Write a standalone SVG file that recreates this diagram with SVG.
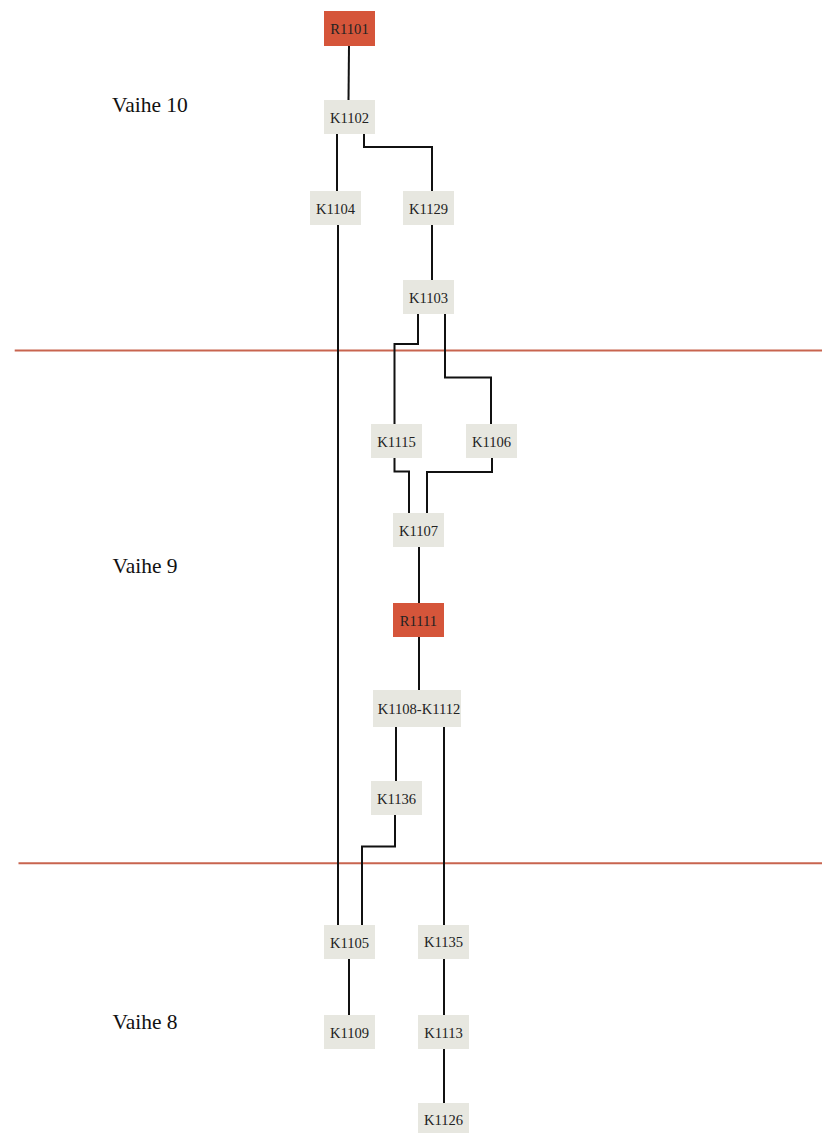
<svg xmlns="http://www.w3.org/2000/svg" width="822" height="1133" viewBox="0 0 822 1133">
<style>
.bg{fill:#ffffff}
.sep{stroke:#c8644f;stroke-width:2;fill:none}
.lbl{font-family:"Liberation Serif","Times New Roman",serif;font-size:21.5px;fill:#111}
.n rect{fill:#e7e7e0}
.r rect{fill:#d5553a}
.n text,.r text{font-family:"Liberation Serif","Times New Roman",serif;font-size:14.6px;fill:#222;text-anchor:middle}
#connectors path{stroke:#111;stroke-width:2;fill:none}
</style>
<rect class="bg" x="0" y="0" width="822" height="1133"/>
<g id="separators">
<path class="sep" d="M14.7,350.5 H822"/>
<path class="sep" d="M18.5,863.2 H822"/>
</g>
<g id="phase-labels">
<text class="lbl" x="112" y="112">Vaihe 10</text>
<text class="lbl" x="112.5" y="573">Vaihe 9</text>
<text class="lbl" x="112.5" y="1029">Vaihe 8</text>
</g>
<g id="connectors">
<path d="M349,46 L348.5,100"/>
<path d="M337,134 V191"/>
<path d="M364,134 V147 H432 V191"/>
<path d="M338,225 V925"/>
<path d="M432,225 V280"/>
<path d="M418,314 V344 H394.5 V424"/>
<path d="M445,314 V377.5 H491 V424"/>
<path d="M394.5,458 V471.5 H409 V513"/>
<path d="M492,458 V472 H427 V513"/>
<path d="M419,547 V603"/>
<path d="M419,637 V690"/>
<path d="M396,727 V781"/>
<path d="M444,727 V925"/>
<path d="M395,815 V846.5 H362 V925"/>
<path d="M349,959 V1015"/>
<path d="M444,959 V1015"/>
<path d="M444,1049 V1103"/>
</g>
<g id="R1101" class="r"><rect x="324" y="11" width="51" height="35"/><text x="349.5" y="34">R1101</text></g>
<g id="K1102" class="n"><rect x="324" y="100" width="51" height="34"/><text x="349.5" y="122.5">K1102</text></g>
<g id="K1104" class="n"><rect x="310" y="191" width="51" height="34"/><text x="335.5" y="213.5">K1104</text></g>
<g id="K1129" class="n"><rect x="403" y="191" width="51" height="34"/><text x="428.5" y="213.5">K1129</text></g>
<g id="K1103" class="n"><rect x="403" y="280" width="51" height="34"/><text x="428.5" y="302.5">K1103</text></g>
<g id="K1115" class="n"><rect x="371" y="424" width="51" height="34"/><text x="396.5" y="446.5">K1115</text></g>
<g id="K1106" class="n"><rect x="466" y="424" width="51" height="34"/><text x="491.5" y="446.5">K1106</text></g>
<g id="K1107" class="n"><rect x="393" y="513" width="51" height="34"/><text x="418.5" y="535.5">K1107</text></g>
<g id="R1111" class="r"><rect x="393" y="603" width="51" height="34"/><text x="418.5" y="625.5">R1111</text></g>
<g id="K1108-K1112" class="n"><rect x="373" y="690" width="88" height="37"/><text x="419" y="714">K1108-K1112</text></g>
<g id="K1136" class="n"><rect x="371" y="781" width="51" height="34"/><text x="396.5" y="803.5">K1136</text></g>
<g id="K1105" class="n"><rect x="324" y="925" width="51" height="34"/><text x="349.5" y="947.5">K1105</text></g>
<g id="K1109" class="n"><rect x="324" y="1015" width="51" height="34"/><text x="349.5" y="1037.5">K1109</text></g>
<g id="K1135" class="n"><rect x="418" y="925" width="51" height="34"/><text x="443.5" y="946.5">K1135</text></g>
<g id="K1113" class="n"><rect x="418" y="1015" width="51" height="34"/><text x="443.5" y="1037.5">K1113</text></g>
<g id="K1126" class="n"><rect x="418" y="1103" width="51" height="34"/><text x="443.5" y="1125">K1126</text></g>
</svg>
